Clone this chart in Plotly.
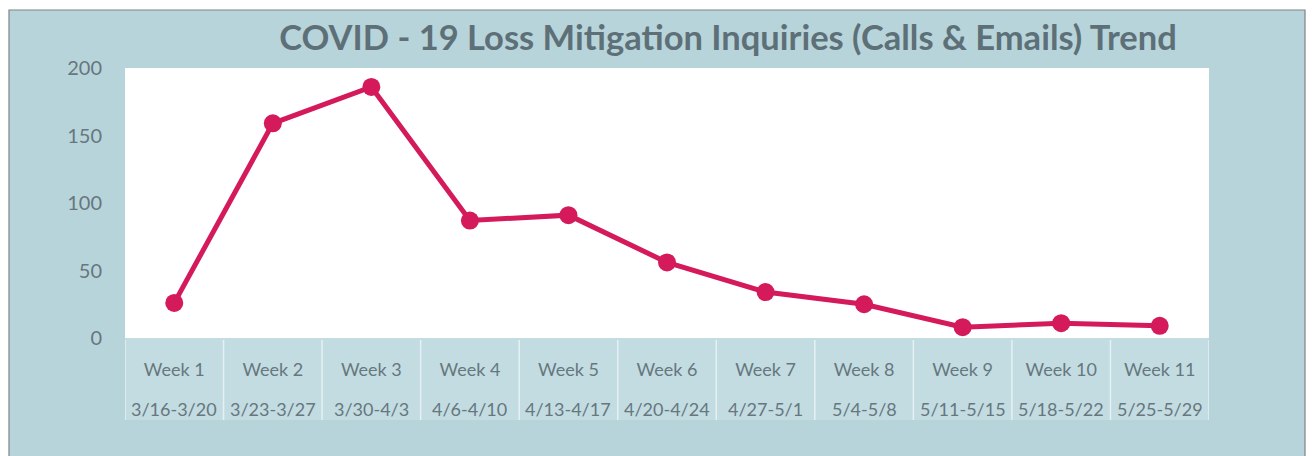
import plotly.graph_objects as go

weeks = ["Week 1", "Week 2", "Week 3", "Week 4", "Week 5", "Week 6",
         "Week 7", "Week 8", "Week 9", "Week 10", "Week 11"]
date_ranges = ["3/16-3/20", "3/23-3/27", "3/30-4/3", "4/6-4/10", "4/13-4/17",
               "4/20-4/24", "4/27-5/1", "5/4-5/8", "5/11-5/15", "5/18-5/22", "5/25-5/29"]
inquiries = [26, 159, 186, 87, 91, 56, 34, 25, 8, 11, 9]
y_ticks = [0, 50, 100, 150, 200]

FONT = "Lato, 'Open Sans', sans-serif"
BG = "#b8d4db"
CELL = "#c3dce2"
TXT = "#66777d"
LINE = "#d41a5a"

OFF = 8  # page body margin in the browser
W, H = 1314 - OFF, 456 - OFF
# target screen pixel positions of the plot area
SL, SR, ST, SB = 125, 1209, 68, 338
L, T = SL - OFF, ST - OFF
R, B = W - (SR - OFF), H - (SB - OFF)
pw, ph = SR - SL, SB - ST

def px2x(px):
    return (px - SL) / pw

def py2y(py):
    return (SB - py) / ph

xs = list(range(len(weeks)))

fig = go.Figure()
fig.add_trace(go.Scatter(
    x=xs, y=inquiries, mode="lines+markers",
    line=dict(color=LINE, width=5),
    marker=dict(color=LINE, size=18),
    cliponaxis=False, hoverinfo="x+y",
))

shapes = [
    # outer chart frame
    dict(type="rect", xref="paper", yref="paper", layer="below",
         x0=px2x(9), x1=px2x(1305), y0=py2y(480), y1=py2y(10),
         fillcolor=BG, line=dict(color="#7d8486", width=1.2)),
    # category cells background
    dict(type="rect", xref="paper", yref="paper", layer="below",
         x0=0, x1=1, y0=py2y(420), y1=0,
         fillcolor=CELL, line=dict(width=0)),
    # white plot area
    dict(type="rect", xref="paper", yref="paper", layer="below",
         x0=0, x1=1, y0=0, y1=1,
         fillcolor="white", line=dict(width=0)),
]
for i in range(len(weeks) + 1):
    shapes.append(dict(type="line", xref="x", yref="paper", layer="below",
                       x0=i - 0.5, x1=i - 0.5, y0=py2y(420), y1=py2y(340),
                       line=dict(color="#e6f0f2", width=1.5)))

annotations = []
for i, d in enumerate(date_ranges):
    annotations.append(dict(x=i, y=py2y(409), xref="x", yref="paper",
                            yanchor="middle", text=d, showarrow=False,
                            font=dict(family=FONT, size=18, color=TXT)))

fig.update_layout(
    width=W, height=H,
    margin=dict(l=L, r=R, t=T, b=B),
    paper_bgcolor="white", plot_bgcolor="white",
    showlegend=False,
    title=dict(text="<b>COVID - 19 Loss Mitigation Inquiries (Calls &amp; Emails) Trend</b>",
               x=(728 - OFF) / W, xanchor="center", y=1 - (38 - OFF) / H, yanchor="middle",
               font=dict(family=FONT, size=34.5, color="#5e7077")),
    shapes=shapes,
    annotations=annotations,
    xaxis=dict(range=[-0.5, 10.5], tickmode="array", tickvals=xs, ticktext=weeks,
               showgrid=False, zeroline=False, showline=False, ticks="",
               ticklabelstandoff=19,
               tickfont=dict(family=FONT, size=18, color=TXT), fixedrange=True),
    yaxis=dict(range=[0, 200], tickvals=y_ticks, showgrid=False, zeroline=False,
               showline=False, ticks="", ticklabelstandoff=22,
               tickfont=dict(family=FONT, size=20, color=TXT), fixedrange=True),
)

fig.write_html("out.html")
